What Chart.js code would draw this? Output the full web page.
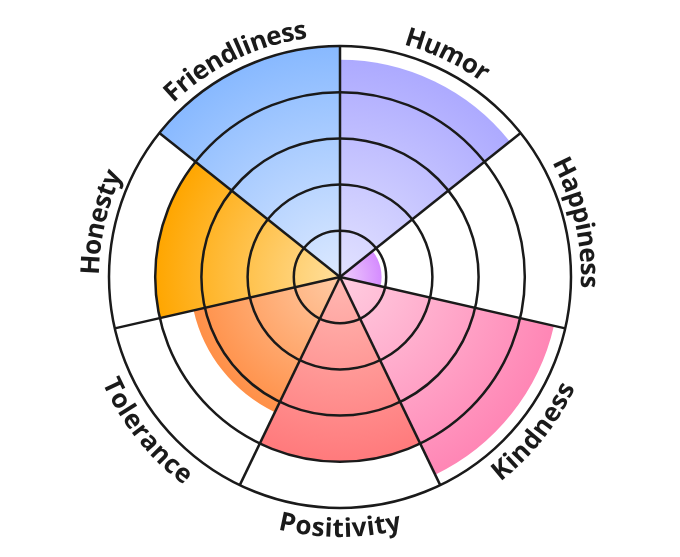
<!DOCTYPE html>
<html>
<head>
<meta charset="utf-8">
<script src="https://cdn.jsdelivr.net/npm/chart.js@4.4.1/dist/chart.umd.min.js"></script>
<style>
  html, body { margin: 0; padding: 0; background: #fff; }
  #wrap { width: 680px; height: 557px; }
</style>
</head>
<body>
<div id="wrap"><canvas id="wheel"></canvas></div>
<script>
// ── Data ────────────────────────────────────
const traits = ['Friendliness', 'Humor', 'Happiness', 'Kindness', 'Positivity', 'Tolerance', 'Honesty'];
const scores = [100, 94, 18, 95, 80, 65, 80];
const innerColors = ['#dce9ff', '#e2e2ff', '#f0d0fa', '#ffcde0', '#ffb8b2', '#ffcaa4', '#ffdf9c'];
const outerColors = ['#88b9ff', '#adaaff', '#d58cff', '#ff86b5', '#ff7a7c', '#ff9048', '#ffa600'];

const INK = '#1a1a1a';

// ── Radial gradient per segment, sized to its own radius ──
function segmentFill(ctx) {
  const chart = ctx.chart;
  const scale = chart.scales.r;
  if (!chart.chartArea || !scale || ctx.type !== 'data') return outerColors[ctx.dataIndex];
  const r = Math.max(1, scale.getDistanceFromCenterForValue(ctx.raw));
  const g = chart.ctx.createRadialGradient(scale.xCenter, scale.yCenter, 0, scale.xCenter, scale.yCenter, r);
  g.addColorStop(0, innerColors[ctx.dataIndex]);
  g.addColorStop(1, outerColors[ctx.dataIndex]);
  return g;
}

// ── Curved labels round the rim ─────────────
const arcLabels = {
  id: 'arcLabels',
  afterDraw(chart) {
    const scale = chart.scales.r;
    const ctx = chart.ctx;
    const R = scale.drawingArea;
    const cx = scale.xCenter, cy = scale.yCenter;
    const step = 2 * Math.PI / traits.length;

    ctx.save();
    ctx.font = 'bold 26px "Open Sans", "Noto Sans", sans-serif';
    ctx.fillStyle = INK;
    ctx.textAlign = 'center';
    ctx.textBaseline = 'alphabetic';

    traits.forEach((label, i) => {
      const mid = scale.getIndexAngle(i) + step / 2 - Math.PI / 2;
      // lower half is flipped so it still reads left to right
      const flip = Math.sin(mid) > 0.3;
      const rad = flip ? R + 29 : R + 10;
      const rMid = R + 19;
      const chars = [...label];
      const widths = chars.map(c => ctx.measureText(c).width);
      const total = widths.reduce((s, w) => s + w, 0);
      const span = total / rMid;
      let a = flip ? mid + span / 2 : mid - span / 2;

      chars.forEach((c, k) => {
        const da = widths[k] / rMid;
        const at = flip ? a - da / 2 : a + da / 2;
        ctx.save();
        ctx.translate(cx + rad * Math.cos(at), cy + rad * Math.sin(at));
        ctx.rotate(flip ? at - Math.PI / 2 : at + Math.PI / 2);
        ctx.fillText(c, 0, 0);
        ctx.restore();
        a = flip ? a - da : a + da;
      });
    });
    ctx.restore();
  }
};

new Chart(document.getElementById('wheel'), {
  type: 'polarArea',
  data: {
    labels: traits,
    datasets: [{
      data: scores,
      backgroundColor: segmentFill,
      borderWidth: 0
    }]
  },
  options: {
    responsive: true,
    maintainAspectRatio: false,
    animation: false,
    layout: { padding: { top: 46, bottom: 48, left: 0, right: 0 } },
    plugins: {
      legend: { display: false },
      tooltip: { enabled: false }
    },
    scales: {
      r: {
        min: 0,
        max: 100,
        startAngle: -360 / 7,
        ticks: { display: false, stepSize: 20 },
        grid: { circular: true, color: INK, lineWidth: 2.5, z: 1 },
        angleLines: { display: true, color: INK, lineWidth: 2.5 },
        pointLabels: { display: false }
      }
    }
  },
  plugins: [arcLabels]
});
</script>
</body>
</html>
